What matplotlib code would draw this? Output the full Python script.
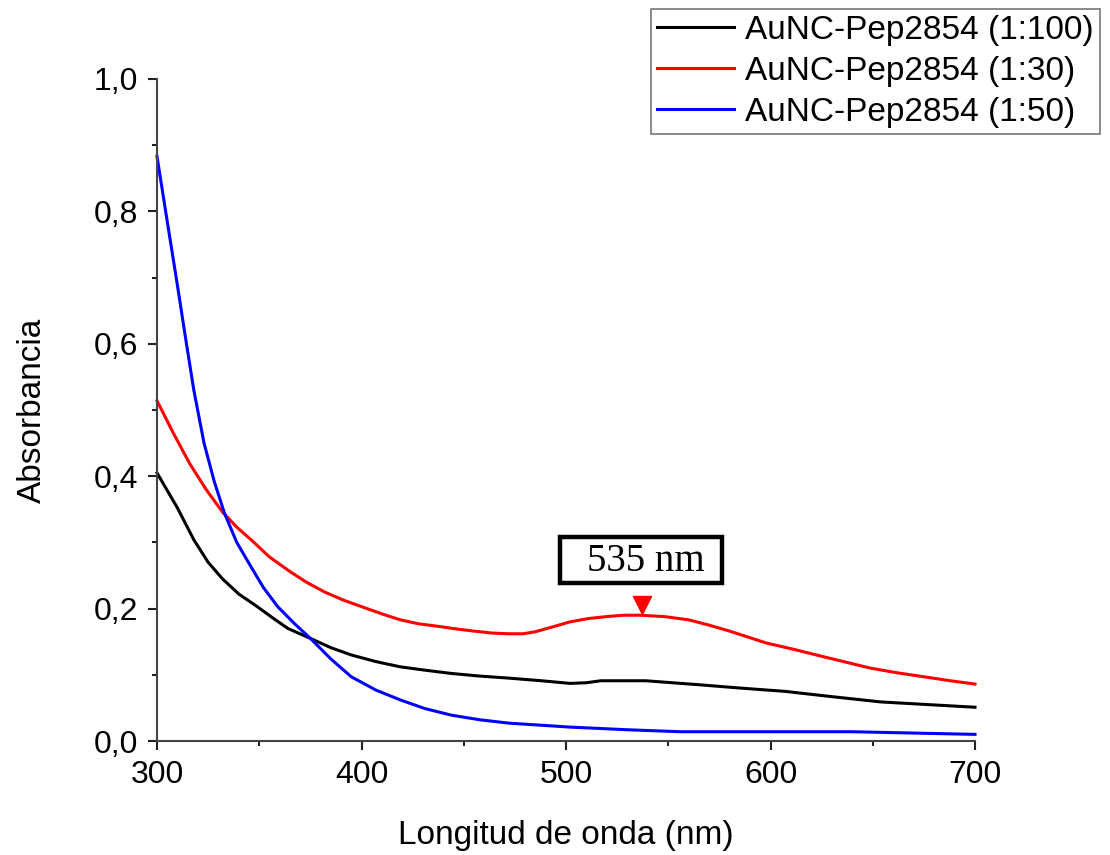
import matplotlib
matplotlib.use("Agg")
import matplotlib.pyplot as plt
from matplotlib.ticker import MultipleLocator, FuncFormatter
from matplotlib.patches import Rectangle

# ---- data ----
wl_black = [300, 310, 318, 325, 332, 340, 349, 357, 364, 375, 385, 395, 407, 419, 431, 444, 458,
            472, 488, 502, 510, 517, 528, 539, 552, 565, 585, 607, 630, 654, 677, 700]
abs_black = [0.405, 0.352, 0.304, 0.270, 0.245, 0.222, 0.203, 0.185, 0.170, 0.155, 0.141, 0.130,
             0.120, 0.112, 0.107, 0.102, 0.098, 0.095, 0.091, 0.087, 0.088, 0.091, 0.091, 0.091,
             0.088, 0.085, 0.080, 0.075, 0.067, 0.059, 0.055, 0.051]

wl_red = [300, 308, 316, 324, 332, 339, 346, 355, 365, 373, 382, 391, 400, 410, 419, 428, 438, 447,
          455, 464, 472, 479, 485, 493, 502, 511, 520, 528, 536, 548, 560, 570, 580, 590, 598,
          612, 625, 637, 649, 662, 675, 688, 700]
abs_red = [0.514, 0.465, 0.419, 0.380, 0.346, 0.323, 0.304, 0.278, 0.256, 0.240, 0.225, 0.213,
           0.203, 0.192, 0.183, 0.177, 0.173, 0.169, 0.166, 0.163, 0.162, 0.162, 0.165, 0.172,
           0.180, 0.185, 0.188, 0.190, 0.190, 0.188, 0.183, 0.175, 0.166, 0.156, 0.148, 0.138,
           0.128, 0.119, 0.110, 0.103, 0.097, 0.091, 0.086]

wl_blue = [300, 305, 310, 314, 318, 323, 328, 333, 339, 346, 352, 359, 367, 375, 385, 395, 407,
           419, 431, 444, 458, 472, 487, 502, 530, 556, 600, 640, 670, 700]
abs_blue = [0.883, 0.785, 0.688, 0.608, 0.530, 0.450, 0.392, 0.344, 0.300, 0.263, 0.232, 0.203,
            0.178, 0.155, 0.124, 0.097, 0.077, 0.062, 0.049, 0.039, 0.032, 0.027, 0.024, 0.021,
            0.017, 0.014, 0.014, 0.014, 0.012, 0.010]

series_labels = ["AuNC-Pep2854 (1:100)", "AuNC-Pep2854 (1:30)", "AuNC-Pep2854 (1:50)"]
series_colors = ["black", "#ff0000", "#0000ff"]

peak_wl = 537
peak_marker_y = 0.206
peak_text = "535 nm"

plt.rcParams['font.family'] = ['Liberation Sans', 'DejaVu Sans']

W, H = 1110, 855
fig = plt.figure(figsize=(W/100, H/100), dpi=100)
ax = fig.add_axes([157/W, 1-741/H, (975-157)/W, (741-79)/H])

for wl, ab, lab, col in zip([wl_black, wl_red, wl_blue], [abs_black, abs_red, abs_blue],
                            series_labels, series_colors):
    ax.plot(wl, ab, color=col, lw=2.2, label=lab, solid_joinstyle='round', clip_on=False)

ax.plot([peak_wl], [peak_marker_y], marker='v', color='#ff0000', ms=13, ls='none')

# annotation box (figure pixel placement)
fig.patches.append(Rectangle((560/W, 1-583/H), 162/W, 46/H, transform=fig.transFigure,
                             fc='white', ec='black', lw=3.2, zorder=5))
fig.text(646/W, 1-561/H, peak_text, family=['Liberation Serif'], fontsize=28,
         ha='center', va='center', zorder=6)

ax.set_xlim(300, 700)
ax.set_ylim(0, 1.0)
ax.xaxis.set_major_locator(MultipleLocator(100))
ax.xaxis.set_minor_locator(MultipleLocator(50))
ax.yaxis.set_major_locator(MultipleLocator(0.2))
ax.yaxis.set_minor_locator(MultipleLocator(0.1))
ax.yaxis.set_major_formatter(FuncFormatter(lambda v, p: f"{v:.1f}".replace('.', ',')))

for s in ['top', 'right']:
    ax.spines[s].set_visible(False)
for s in ['left', 'bottom']:
    ax.spines[s].set_color('#444444')
    ax.spines[s].set_linewidth(1.5)

ax.tick_params(which='major', direction='out', length=6.5, width=1.5, labelsize=23,
               color='#222222', pad=7)
ax.tick_params(which='minor', direction='out', length=3.8, width=1.5, color='#222222')

ax.set_xlabel("Longitud de onda (nm)", fontsize=24, labelpad=22)
ax.set_ylabel("Absorbancia", fontsize=24, labelpad=33)

leg = fig.legend(loc='upper right', bbox_to_anchor=(1100/W, 1-9/H), fontsize=24,
                 frameon=True, fancybox=False, edgecolor='#555555', borderaxespad=0,
                 handlelength=2.3, handletextpad=0.35, labelspacing=0.3, borderpad=0.18)
leg.get_frame().set_linewidth(1.2)

fig.savefig("out.png", dpi=100)
